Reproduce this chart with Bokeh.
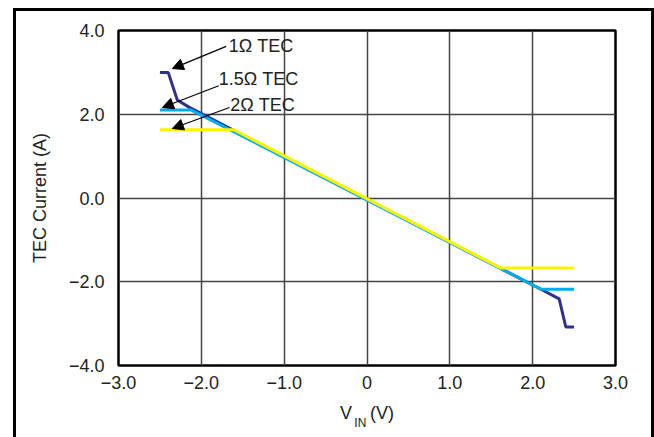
from bokeh.plotting import figure
from bokeh.models import (FixedTicker, Label, Arrow, NormalHead, Range1d, LinearAxis,
                          InlineStyleSheet)
from bokeh.embed import file_html
from bokeh.resources import INLINE

# ---- data ----
x_ticks = [-3, -2, -1, 0, 1, 2, 3]
x_tick_labels = ["\u22123.0", "\u22122.0", "\u22121.0", "0", "1.0", "2.0", "3.0"]
y_ticks = [-4, -2, 0, 2, 4]
y_tick_labels = ["\u22124.0", "\u22122.0", "0.0", "2.0", "4.0"]

vin_1ohm = [-2.5, -2.4, -2.29, -2.15, 2.10, 2.32, 2.40, 2.5]
i_1ohm = [3.0, 3.0, 2.34, 2.17, -2.18, -2.41, -3.08, -3.08]

vin_15ohm = [-2.5, -2.12, 2.10, 2.5]
i_15ohm = [2.10, 2.10, -2.18, -2.18]

vin_2ohm = [-2.5, -1.61, 1.61, 2.5]
i_2ohm = [1.63, 1.63, -1.67, -1.67]

series_names = ["1\u03a9 TEC", "1.5\u03a9 TEC", "2\u03a9 TEC"]
name_pos_x = [-1.67, -1.79, -1.65]
name_pos_y = [3.64, 2.83, 2.21]
arrow_start_x = [-1.70, -1.79, -1.66]
arrow_start_y = [3.62, 2.68, 2.16]
arrow_end_x = [-2.35, -2.47, -2.35]
arrow_end_y = [3.09, 2.16, 1.66]

x_label_main = "V\u2003(V)"
x_label_sub = "IN    "
y_label = "TEC Current (A)"

FONT = "Liberation Sans"

box_css = """
:host { position: relative; }
:host::after {
  content: ''; position: absolute; left: 13px; top: 8px; width: 641px; height: 460px;
  border: 3px solid black; box-sizing: border-box; pointer-events: none; z-index: 10;
}
"""

p = figure(
    frame_width=497, frame_height=335,
    min_border_left=118, min_border_right=39, min_border_top=30, min_border_bottom=72,
    x_range=Range1d(-3, 3), y_range=Range1d(-4, 4),
    output_backend="svg", toolbar_location=None,
    background_fill_color="white", border_fill_color="white",
    stylesheets=[InlineStyleSheet(css=box_css)],
)

p.outline_line_color = "black"
p.outline_line_width = 2.5

for ax in (p.xaxis[0], p.yaxis[0]):
    ax.axis_line_color = None
    ax.major_tick_in = 0
    ax.major_tick_out = 0
    ax.minor_tick_in = 0
    ax.minor_tick_out = 0
    ax.major_label_text_font = FONT
    ax.major_label_text_font_size = "18px"
    ax.major_label_text_color = "#222222"
    ax.axis_label_text_font = FONT
    ax.axis_label_text_font_size = "18px"
    ax.axis_label_text_font_style = "normal"
    ax.axis_label_text_color = "#222222"

p.xaxis.ticker = FixedTicker(ticks=x_ticks)
p.xaxis.major_label_overrides = dict(zip(x_ticks, x_tick_labels))
p.xaxis.major_label_standoff = 10
p.xaxis.axis_label = x_label_main
p.xaxis.axis_label_standoff = 11
p.yaxis.ticker = FixedTicker(ticks=y_ticks)
p.yaxis.major_label_overrides = dict(zip(y_ticks, y_tick_labels))
p.yaxis.major_label_standoff = 14
p.yaxis.axis_label = y_label
p.yaxis.axis_label_standoff = 16

# second (label-only) axis carrying the subscript of V_IN
sub_axis = LinearAxis(ticker=FixedTicker(ticks=[]), axis_line_color=None,
                      major_tick_in=0, major_tick_out=0, minor_tick_in=0, minor_tick_out=0,
                      major_label_standoff=0, major_label_text_font_size="0px",
                      axis_label=x_label_sub, axis_label_standoff=-10,
                      axis_label_text_font=FONT, axis_label_text_font_size="12px",
                      axis_label_text_font_style="normal", axis_label_text_color="#222222")
p.add_layout(sub_axis, "below")

p.xgrid.ticker = FixedTicker(ticks=[t for t in x_ticks if -3 < t < 3])
p.ygrid.ticker = FixedTicker(ticks=[t for t in y_ticks if -4 < t < 4])
p.xgrid.grid_line_color = "#444444"
p.ygrid.grid_line_color = "#444444"
p.xgrid.grid_line_width = 1.5
p.ygrid.grid_line_width = 1.5

# curves
p.line(vin_1ohm, i_1ohm, line_color="#2e3192", line_width=3)
p.line(vin_15ohm, i_15ohm, line_color="#00aeef", line_width=3)
p.line(vin_2ohm, i_2ohm, line_color="#fff200", line_width=3)

# labels + arrows
for name, lx, ly, sx, sy, ex, ey in zip(series_names, name_pos_x, name_pos_y,
                                        arrow_start_x, arrow_start_y, arrow_end_x, arrow_end_y):
    p.add_layout(Label(x=lx, y=ly, text=name, text_font=FONT, text_font_size="18px",
                       text_baseline="middle", text_align="left", text_color="#222222"))
    p.add_layout(Arrow(x_start=sx, y_start=sy, x_end=ex, y_end=ey, line_width=1.2,
                       line_color="black",
                       end=NormalHead(size=11, fill_color="black", line_color="black")))

open("out.html", "w").write(file_html(p, INLINE))
